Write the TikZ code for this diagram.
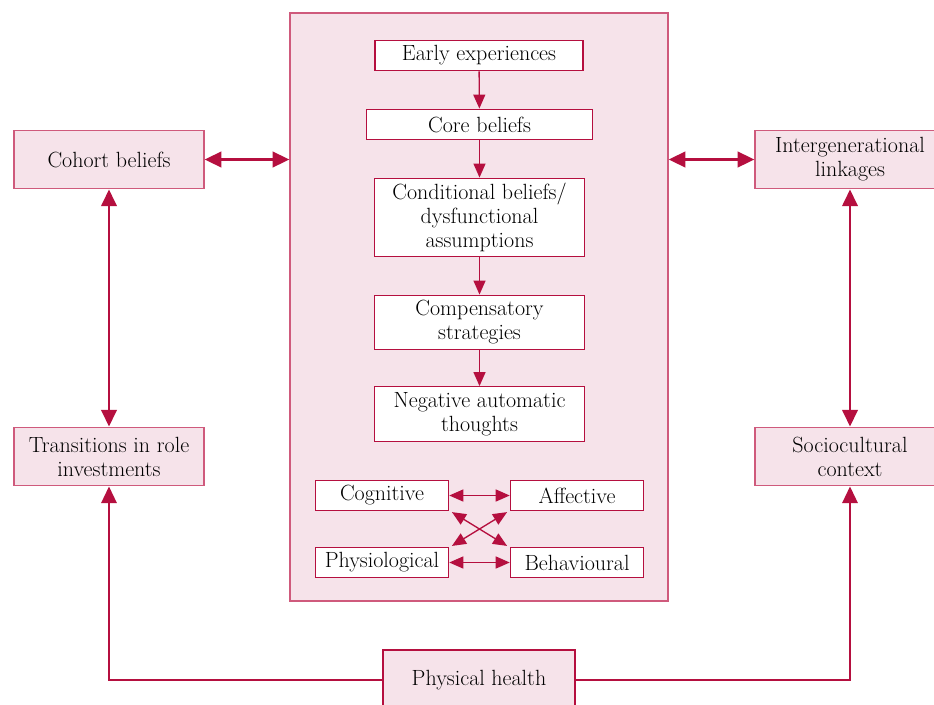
\documentclass[tikz,border=0pt]{standalone}
\usepackage{fontspec}
\usepackage{amsmath}
\usetikzlibrary{arrows.meta}
\usetikzlibrary{positioning}

\definecolor{crimson}{HTML}{B50F3F}
\definecolor{rosefill}{HTML}{F6E3EA}
\definecolor{roseline}{HTML}{CF5A7C}

\begin{document}
\begin{tikzpicture}[x=0.75pt,y=-0.75pt]
  \tikzset{stage/.style = {shape=rectangle,draw=crimson,fill=white,line width=0.9pt,
      align=center,inner sep=0pt,font=\fontsize{16.5}{18}\selectfont}}
  \tikzset{outer/.style = {stage,draw=roseline,fill=rosefill}}
  \tikzset{edge/.style = {->,draw=crimson,line width=1pt,
      > = {Triangle[length=10.5pt,width=9pt]}}}
  \tikzset{bigedge/.style = {->,draw=crimson,line width=2pt,
      > = {Triangle[length=12.5pt,width=11.5pt]}}}

  \clip (0,0) rectangle (934,704);
  \useasboundingbox (0,0) rectangle (934,704);

  \node[outer, minimum width=283.5pt, minimum height=441pt] (frame) at (479,307) {};

  \node[stage, minimum width=156pt, minimum height=23pt] (early) at (479,55.5) {Early experiences};
  \node[stage, minimum width=169pt, minimum height=23pt] (core) at (479.5,124.5) {Core beliefs};
  \node[stage, minimum width=157pt, minimum height=59pt] (cond) at (479.5,217.5)
  {Conditional beliefs/\\dysfunctional\\assumptions};
  \node[stage, minimum width=157pt, minimum height=41pt] (comp) at (479.5,322.5)
  {Compensatory\\strategies};
  \node[stage, minimum width=157pt, minimum height=41pt] (nat) at (479.5,414)
  {Negative automatic\\thoughts};

  \node[stage, minimum width=100pt, minimum height=22pt] (cog)  at (382,495.5) {Cognitive};
  \node[stage, minimum width=100pt, minimum height=22pt] (aff)  at (577,495.5) {Affective};
  \node[stage, minimum width=100pt, minimum height=22pt] (phys) at (382,562.5) {Physiological};
  \node[stage, minimum width=100pt, minimum height=22pt] (beh)  at (577,562.5) {Behavioural};

  \node[outer, minimum width=142.5pt, minimum height=44pt] (cohort) at (109,159.5) {Cohort beliefs};
  \node[outer, minimum width=142.5pt, minimum height=44pt] (trans) at (109,456.5)
  {Transitions in role\\investments};
  \node[outer, minimum width=142.5pt, minimum height=44pt] (inter) at (850,159.5)
  {Intergenerational\\linkages};
  \node[outer, minimum width=142.5pt, minimum height=44pt] (socio) at (850,456.5)
  {Sociocultural\\context};
  \node[outer, draw=crimson, line width=1.6pt, minimum width=144pt, minimum height=45pt] (health)
  at (479,680) {Physical health};

  \draw[edge] (early) to (core);
  \draw[edge] (core) to (cond);
  \draw[edge] (cond) to (comp);
  \draw[edge] (comp) to (nat);

  \draw[edge,<->] (cog.east) to (aff.west);
  \draw[edge,<->] (phys.east) to (beh.west);
  \draw[edge,<->] ([xshift=2pt,yshift=-1pt]cog.south east) to ([xshift=-2pt,yshift=1pt]beh.north west);
  \draw[edge,<->] ([xshift=2pt,yshift=1pt]phys.north east) to ([xshift=-2pt,yshift=-1pt]aff.south west);

  \draw[bigedge,<->] (cohort.east) to (cohort.east -| frame.west);
  \draw[bigedge,<->] (inter.west -| frame.east) to (inter.west);
  \draw[bigedge,<->] (cohort) to (trans);
  \draw[bigedge,<->] (inter) to (socio);

  \draw[bigedge,line width=1.6pt] (health.west) -| (trans.south);
  \draw[bigedge,line width=1.6pt] (health.east) -| (socio.south);
\end{tikzpicture}
\end{document}
